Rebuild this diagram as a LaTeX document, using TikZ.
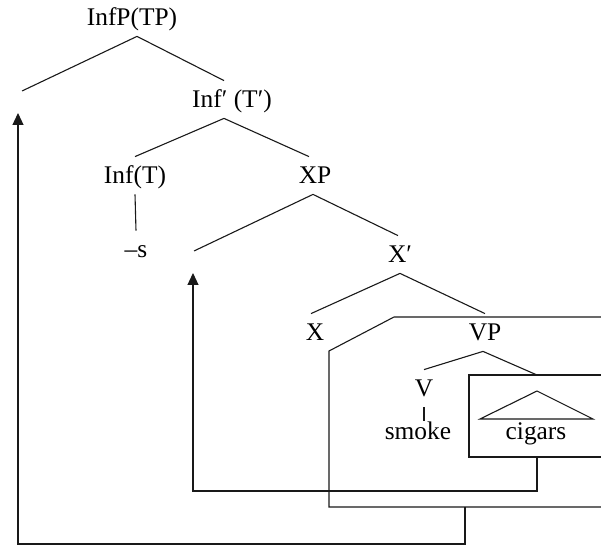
\documentclass[tikz,border=0pt]{standalone}
\usepackage{fontspec}
\setmainfont{Liberation Serif}
\usetikzlibrary{arrows.meta}
\begin{document}
\begin{tikzpicture}[x=0.5pt,y=-0.5pt,
  lbl/.style={anchor=base,inner xsep=1pt,inner ysep=4pt,text height=9.5pt,text depth=1pt,font=\fontsize{12.7}{15}\selectfont},
  br/.style={black!90,line width=0.55pt},
  mv/.style={black!90,line width=0.6pt,-{Triangle[length=6pt,width=5.5pt]}}]

\useasboundingbox (0,0) rectangle (601,545) ;

\node[lbl] (infp) at (132,26) {InfP(TP)} ;
\node[lbl] (infbar) at (232,108) {Inf′ (T′)} ;
\node[lbl] (inf) at (135,184) {Inf(T)} ;
\node[lbl] (suffix) at (136,258) {–s} ;
\node[lbl] (xp) at (315,184) {XP} ;
\node[lbl] (xbar) at (400,263) {X′} ;
\node[lbl] (x) at (315,341) {X} ;
\node[lbl] (vp) at (485,341) {VP} ;
\node[lbl] (v) at (424,397) {V} ;
\node[lbl] (smoke) at (418,440) {smoke} ;
\node[lbl] (cigars) at (536,440) {cigars} ;

\coordinate (spectp) at (22,91) ;
\coordinate (specxp) at (194,251) ;
\coordinate (ttp) at (18,113) ;
\coordinate (txp) at (193,273) ;
\coordinate (nptop) at (537,375) ;
\coordinate (npbot) at (537,457) ;
\coordinate (vpbot) at (465,507) ;

\draw[br] (spectp) -- ([xshift=2.5pt]infp.south) -- ([xshift=-4pt]infbar.north) ;
\draw[br] (inf.north) -- ([xshift=-4pt]infbar.south) -- ([xshift=-3pt]xp.north) ;
\draw[br] (inf.south) -- (suffix.north) ;
\draw[br] (specxp) -- ([xshift=-1pt]xp.south) -- ([xshift=-1pt]xbar.north) ;
\draw[br] ([xshift=-2pt]x.north) -- (xbar.south) -- (vp.north) ;
\draw[br] (v.north) -- ([xshift=-1pt]vp.south) -- (nptop) ;
\draw[br] (v.south) -- ([yshift=-4pt]v.south |- smoke.north) ;

% boxes
\draw[br] (601,375) -| (469,457) -- (601,457) ;
\draw[br] (537,391) -- (480,419) -- (593,419) -- cycle ;
\draw[br] (601,317) -- (394,317) -- (329,351) -- (329,507) -- (601,507) ;

% movement
\draw[mv] (npbot) -- ++(0,34) -| (txp) ;
\draw[mv] (vpbot) -- ++(0,37) -| (ttp) ;

\end{tikzpicture}
\end{document}
